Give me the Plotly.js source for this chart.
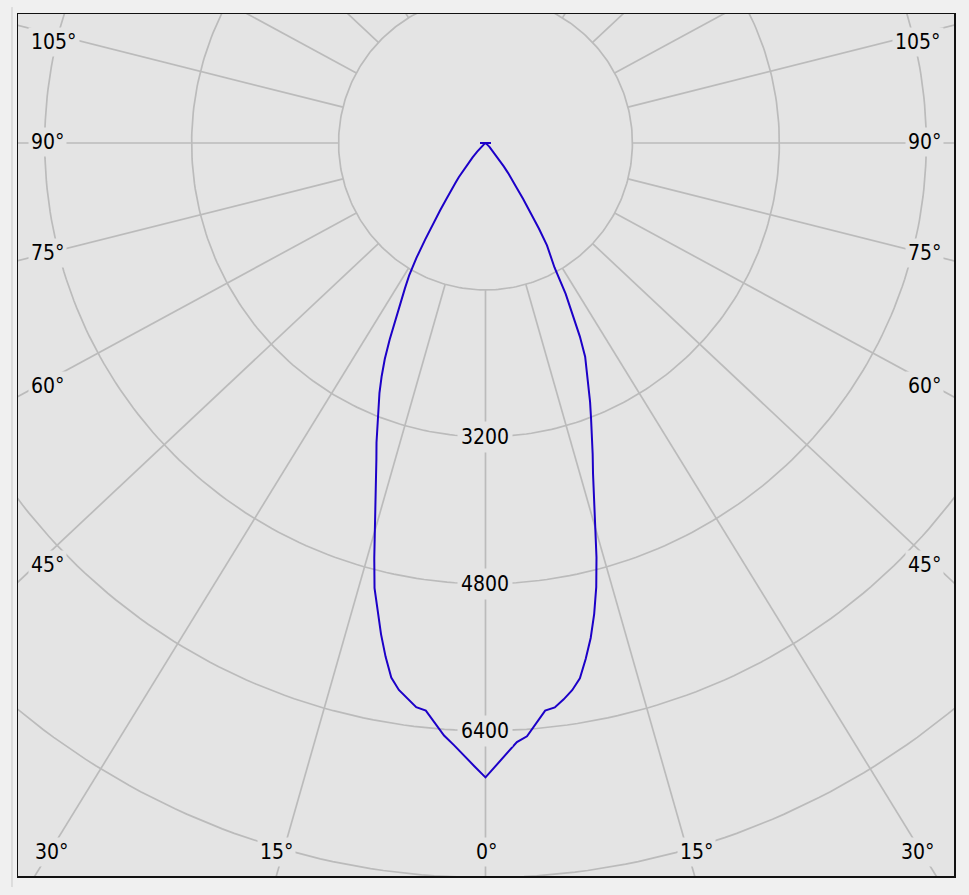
<!DOCTYPE html>
<html>
<head>
<meta charset="utf-8">
<script src="https://cdn.plot.ly/plotly-3.0.1.min.js"></script>
<style>
  html, body { margin: 0; padding: 0; background: #f0f0f0; }
  #chart { width: 969px; height: 895px; }
</style>
</head>
<body>
<div id="chart"></div>
<script>
// ---- Data (luminous intensity, cd, by gamma angle in degrees; 0° = straight down) ----
const gammaAngles = [0,1,2,3,4,5,6,7,8,9,10,11,12,13,14,15,16,17,18,19,20,
  21,22,23,24,25,26,27,28,29,30,31,32,33,34,35,36,37,38,39,40,
  42,44,46,48,50,60,70,80,90,180];

const intensityLeft = [6908,6790,6680,6566,6468,6340,6215,6190,6110,6030,5910,
  5700,5470,5220,4995,4680,4360,4100,3865,3650,3470,
  3280,3110,2955,2780,2595,2380,2140,1970,1810,1660,
  1460,1240,1035,880,740,605,540,470,400,330,
  210,130,60,30,0,0,0,0,60,0];

const intensityRight = [6908,6780,6655,6533,6476,6345,6215,6193,6118,6033,5920,
  5722,5510,5262,4985,4670,4320,4046,3790,3585,3396,
  3207,3040,2873,2716,2568,2345,2094,1860,1550,1425,
  1300,1097,900,731,580,494,410,323,245,200,
  140,100,60,30,0,0,0,0,60,0];

// grid definitions
const ringValues = [1600, 3200, 4800, 6400, 8000];
const ringLabelValues = [3200, 4800, 6400];
const ringLabels = ['3200', '4800', '6400'];
const spokeAngles = [0,15,30,45,60,75,90,105,120,135,150,165,180,195,210,225,240,255,270,285,300,315,330,345];

const leftAngleLabels = ['105°', '90°', '75°', '60°', '45°'];
const bottomAngleLabels = ['30°', '15°', '0°', '15°', '30°'];

// ---- Build geometry ----
const d2r = Math.PI / 180;
const GRID = '#bbbbbb';
const BG = '#e4e4e4';

// rings
const ringX = [], ringY = [];
ringValues.forEach(r => {
  for (let t = 0; t <= 360; t += 1) {
    ringX.push(r * Math.sin(t * d2r));
    ringY.push(r * Math.cos(t * d2r));
  }
  ringX.push(null); ringY.push(null);
});

// spokes (start on the innermost ring); the original tool draws them with a slight horizontal stretch
const stretch = 1.065;
const spokeX = [], spokeY = [];
spokeAngles.forEach(a => {
  const dx = stretch * Math.sin(a * d2r), dy = -Math.cos(a * d2r);
  const n = Math.hypot(dx, dy);
  const ux = dx / n, uy = dy / n;
  spokeX.push(ringValues[0] * ux, 14000 * ux, null);
  spokeY.push(ringValues[0] * uy, 14000 * uy, null);
});

// curve: left half from 180° down to 0°, then right half from 0° up to 180°
const curveX = [], curveY = [];
for (let i = gammaAngles.length - 1; i >= 0; i--) {
  const a = gammaAngles[i] * d2r;
  curveX.push(-intensityLeft[i] * Math.sin(a));
  curveY.push(-intensityLeft[i] * Math.cos(a));
}
for (let i = 1; i < gammaAngles.length; i++) {
  const a = gammaAngles[i] * d2r;
  curveX.push(intensityRight[i] * Math.sin(a));
  curveY.push(-intensityRight[i] * Math.cos(a));
}

const traces = [
  { x: ringX, y: ringY, mode: 'lines', line: { color: GRID, width: 1.7 }, hoverinfo: 'skip' },
  { x: spokeX, y: spokeY, mode: 'lines', line: { color: GRID, width: 1.7 }, hoverinfo: 'skip' },
  { x: curveX, y: curveY, mode: 'lines', line: { color: '#1c00c8', width: 2 }, hoverinfo: 'skip' }
];

// ---- Labels ----
const FONT = { family: 'DejaVu Sans Condensed, DejaVu Sans, sans-serif', size: 21, color: '#000' };
const annotations = [];
ringLabelValues.forEach((v, i) => {
  annotations.push({ x: 0, y: -v, xref: 'x', yref: 'y', text: ringLabels[i], showarrow: false,
    xanchor: 'center', yanchor: 'middle', bgcolor: BG, borderpad: 3, font: FONT });
});
const sideY = [0.9675, 0.8515, 0.7227, 0.5684, 0.3608];
leftAngleLabels.forEach((t, i) => {
  annotations.push({ x: 0.0108, y: sideY[i], xref: 'paper', yref: 'paper', text: t, showarrow: false,
    xanchor: 'left', yanchor: 'middle', bgcolor: BG, borderpad: 2, font: FONT });
  annotations.push({ x: 0.9893, y: sideY[i], xref: 'paper', yref: 'paper', text: t, showarrow: false,
    xanchor: 'right', yanchor: 'middle', bgcolor: BG, borderpad: 2, font: FONT });
});
const bottomX = [0.0363, 0.2767, 0.5, 0.7254, 0.9615];
bottomAngleLabels.forEach((t, i) => {
  annotations.push({ x: bottomX[i], y: 0.0278, xref: 'paper', yref: 'paper', text: t, showarrow: false,
    xanchor: 'center', yanchor: 'middle', bgcolor: BG, borderpad: 2, font: FONT });
});

const axisCommon = { showgrid: false, zeroline: false, showticklabels: false, ticks: '',
  showline: true, mirror: true, linecolor: '#111', linewidth: 1.5, fixedrange: true };

const layout = {
  width: 969, height: 895,
  margin: { l: 18, r: 15, t: 14, b: 19, pad: 0 },
  paper_bgcolor: '#f0f0f0',
  plot_bgcolor: BG,
  showlegend: false,
  xaxis: Object.assign({ range: [-5091, 5102] }, axisCommon),
  yaxis: Object.assign({ range: [-7982, 1405] }, axisCommon),
  shapes: [
    { type: 'line', xref: 'paper', yref: 'paper', x0: -0.0064, x1: -0.0064, y0: -0.0128, y1: 1.008,
      line: { color: '#c9c9c9', width: 1 } }
  ],
  annotations: annotations
};

Plotly.newPlot('chart', traces, layout, { staticPlot: true, displayModeBar: false });
</script>
</body>
</html>
